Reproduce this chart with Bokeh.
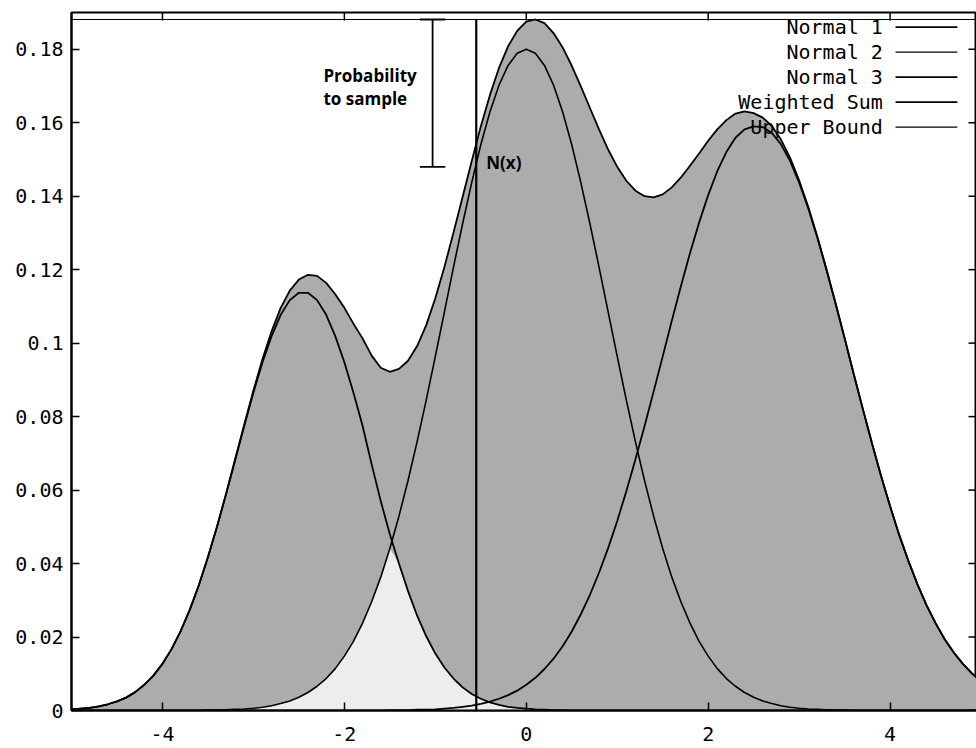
import numpy as np
from bokeh.plotting import figure
from bokeh.models import Range1d, FixedTicker
from bokeh.core.properties import value
from bokeh.embed import file_html
from bokeh.resources import INLINE

# ---- data (x step 0.1) ----
x = [-5.0, -4.9, -4.8, -4.7, -4.6, -4.5, -4.4, -4.3, -4.2, -4.1,
     -4.0, -3.9, -3.8, -3.7, -3.6, -3.5, -3.4, -3.3, -3.2, -3.1,
     -3.0, -2.9, -2.8, -2.7, -2.6, -2.5, -2.4, -2.3, -2.2, -2.1,
     -2.0, -1.9, -1.8, -1.7, -1.6, -1.5, -1.4, -1.3, -1.2, -1.1,
     -1.0, -0.9, -0.8, -0.7, -0.6, -0.5, -0.4, -0.3, -0.2, -0.1,
     0.0, 0.1, 0.2, 0.3, 0.4, 0.5, 0.6, 0.7, 0.8, 0.9,
     1.0, 1.1, 1.2, 1.3, 1.4, 1.5, 1.6, 1.7, 1.8, 1.9,
     2.0, 2.1, 2.2, 2.3, 2.4, 2.5, 2.6, 2.7, 2.8, 2.9,
     3.0, 3.1, 3.2, 3.3, 3.4, 3.5, 3.6, 3.7, 3.8, 3.9,
     4.0, 4.1, 4.2, 4.3, 4.4, 4.5, 4.6, 4.7, 4.8, 4.9,
     5.0]

normal_1 = [0.0003, 0.0005, 0.0007, 0.0011, 0.0017, 0.0025, 0.0035, 0.0050, 0.0070, 0.0095,
            0.0127, 0.0167, 0.0216, 0.0274, 0.0341, 0.0417, 0.0500, 0.0589, 0.0682, 0.0775,
            0.0865, 0.0948, 0.1019, 0.1077, 0.1117, 0.1137, 0.1137, 0.1117, 0.1077, 0.1019,
            0.0948, 0.0865, 0.0775, 0.0670, 0.0570, 0.0480, 0.0400, 0.0325, 0.0258, 0.0202,
            0.0155, 0.0117, 0.0087, 0.0063, 0.0045, 0.0032, 0.0022, 0.0015, 0.0010, 0.0007,
            0.0005, 0.0003, 0.0002, 0.0001, 0.0001, 0.0, 0.0, 0.0, 0.0, 0.0,
            0.0, 0.0, 0.0, 0.0, 0.0, 0.0, 0.0, 0.0, 0.0, 0.0,
            0.0, 0.0, 0.0, 0.0, 0.0, 0.0, 0.0, 0.0, 0.0, 0.0,
            0.0, 0.0, 0.0, 0.0, 0.0, 0.0, 0.0, 0.0, 0.0, 0.0,
            0.0, 0.0, 0.0, 0.0, 0.0, 0.0, 0.0, 0.0, 0.0, 0.0,
            0.0]

normal_2 = [0.0, 0.0, 0.0, 0.0, 0.0, 0.0, 0.0, 0.0, 0.0, 0.0,
            0.0, 0.0, 0.0, 0.0, 0.0, 0.0001, 0.0001, 0.0002, 0.0003, 0.0004,
            0.0006, 0.0009, 0.0013, 0.0019, 0.0026, 0.0036, 0.0049, 0.0066, 0.0087, 0.0114,
            0.0148, 0.0188, 0.0238, 0.0296, 0.0363, 0.0441, 0.0529, 0.0626, 0.0732, 0.0845,
            0.0964, 0.1085, 0.1207, 0.1325, 0.1437, 0.1540, 0.1629, 0.1702, 0.1756, 0.1789,
            0.1800, 0.1789, 0.1756, 0.1702, 0.1629, 0.1540, 0.1437, 0.1325, 0.1207, 0.1085,
            0.0964, 0.0845, 0.0732, 0.0626, 0.0529, 0.0441, 0.0363, 0.0296, 0.0238, 0.0188,
            0.0148, 0.0114, 0.0087, 0.0066, 0.0049, 0.0036, 0.0026, 0.0019, 0.0013, 0.0009,
            0.0006, 0.0004, 0.0003, 0.0002, 0.0001, 0.0001, 0.0, 0.0, 0.0, 0.0,
            0.0, 0.0, 0.0, 0.0, 0.0, 0.0, 0.0, 0.0, 0.0, 0.0,
            0.0]

normal_3 = [0.0, 0.0, 0.0, 0.0, 0.0, 0.0, 0.0, 0.0, 0.0, 0.0,
            0.0, 0.0, 0.0, 0.0, 0.0, 0.0, 0.0, 0.0, 0.0, 0.0,
            0.0, 0.0, 0.0, 0.0, 0.0, 0.0, 0.0, 0.0, 0.0, 0.0,
            0.0, 0.0, 0.0, 0.0, 0.0, 0.0001, 0.0001, 0.0001, 0.0002, 0.0002,
            0.0003, 0.0005, 0.0007, 0.0010, 0.0013, 0.0018, 0.0024, 0.0032, 0.0042, 0.0054,
            0.0070, 0.0089, 0.0113, 0.0141, 0.0175, 0.0215, 0.0262, 0.0315, 0.0375, 0.0442,
            0.0516, 0.0597, 0.0683, 0.0774, 0.0868, 0.0964, 0.1061, 0.1155, 0.1245, 0.1328,
            0.1403, 0.1468, 0.1520, 0.1559, 0.1582, 0.1590, 0.1588, 0.1572, 0.1541, 0.1496,
            0.1437, 0.1367, 0.1287, 0.1200, 0.1108, 0.1013, 0.0916, 0.0821, 0.0728, 0.0639,
            0.0556, 0.0478, 0.0408, 0.0344, 0.0287, 0.0238, 0.0194, 0.0158, 0.0127, 0.0101,
            0.0079]

weighted_sum = [0.0003, 0.0005, 0.0007, 0.0011, 0.0017, 0.0025, 0.0035, 0.0050, 0.0070, 0.0095,
                0.0127, 0.0167, 0.0216, 0.0274, 0.0341, 0.0418, 0.0501, 0.0591, 0.0685, 0.0779,
                0.0871, 0.0957, 0.1032, 0.1096, 0.1143, 0.1173, 0.1186, 0.1183, 0.1164, 0.1133,
                0.1096, 0.1053, 0.1013, 0.0966, 0.0933, 0.0922, 0.0930, 0.0952, 0.0992, 0.1049,
                0.1122, 0.1207, 0.1301, 0.1398, 0.1495, 0.1590, 0.1675, 0.1749, 0.1808, 0.1850,
                0.1875, 0.1881, 0.1871, 0.1844, 0.1805, 0.1755, 0.1699, 0.1640, 0.1582, 0.1527,
                0.1480, 0.1442, 0.1415, 0.1400, 0.1397, 0.1405, 0.1424, 0.1451, 0.1483, 0.1516,
                0.1551, 0.1582, 0.1607, 0.1625, 0.1631, 0.1626, 0.1614, 0.1591, 0.1554, 0.1505,
                0.1443, 0.1371, 0.1290, 0.1202, 0.1109, 0.1014, 0.0916, 0.0821, 0.0728, 0.0639,
                0.0556, 0.0478, 0.0408, 0.0344, 0.0287, 0.0238, 0.0194, 0.0158, 0.0127, 0.0101,
                0.0079]

upper_bound = 0.1881
sample_x = -0.55           # sampled position (vertical line)
sample_value = 0.148       # bottom of the "probability to sample" bar
prob_bar_x = -1.03

x_ticks = [-4, -2, 0, 2, 4]
x_tick_labels = ["-4", "-2", "0", "2", "4"]
y_ticks = [0, 0.02, 0.04, 0.06, 0.08, 0.1, 0.12, 0.14, 0.16, 0.18]
y_tick_labels = ["0", "0.02", "0.04", "0.06", "0.08", "0.1", "0.12", "0.14", "0.16", "0.18"]

legend_labels = ["Normal 1", "Normal 2", "Normal 3", "Weighted Sum", "Upper Bound"]

# ---- figure ----
X0, X1, Y0, Y1 = -5, 4.95, 0, 0.19
MONO = "DejaVu Sans Mono"
p = figure(width=976, height=748, x_range=Range1d(X0, X1), y_range=Range1d(Y0, Y1),
           output_backend="svg", toolbar_location=None,
           min_border_left=71, min_border_right=0, min_border_top=12, min_border_bottom=38)
p.background_fill_color = "white"
p.border_fill_color = "white"
p.outline_line_color = "black"
p.outline_line_width = 2
p.grid.visible = False

# shaded area under the weighted sum, lighter area under both Normal 1 and Normal 2
p.varea(x=x, y1=0, y2=weighted_sum, fill_color="#acacac")
p.varea(x=x, y1=0, y2=list(np.minimum(normal_1, normal_2)), fill_color="#ededed")

# curves
p.line(x, normal_1, line_color="black", line_width=1.8)
p.line(x, normal_2, line_color="black", line_width=1.6)
p.line(x, normal_3, line_color="black", line_width=1.8)
p.line(x, weighted_sum, line_color="black", line_width=1.8)
p.line([x[0], x[-1]], [upper_bound, upper_bound], line_color="black", line_width=1.2)

# sampled position and probability bar
p.segment(x0=[sample_x], y0=[0], x1=[sample_x], y1=[upper_bound], line_color="black", line_width=2.2)
p.segment(x0=[prob_bar_x], y0=[sample_value], x1=[prob_bar_x], y1=[upper_bound],
          line_color="black", line_width=1.8)
p.segment(x0=[prob_bar_x - 0.14, prob_bar_x - 0.14], y0=[sample_value, upper_bound],
          x1=[prob_bar_x + 0.14, prob_bar_x + 0.14], y1=[sample_value, upper_bound],
          line_color="black", line_width=1.8)

p.text(x=[-2.23, -2.23], y=[0.1729, 0.1667], text=["Probability", "to sample"],
       text_font=value("Open Sans"), text_font_style="bold", text_font_size="17px",
       text_align="left", text_baseline="middle", text_color="black")
p.text(x=[-0.44], y=[0.1492], text=["N(x)"],
       text_font=value("Open Sans"), text_font_style="bold", text_font_size="17px",
       text_align="left", text_baseline="middle", text_color="black")

# legend (labels right-aligned, sample line to the right, as in gnuplot)
leg_y = [0.1860, 0.1792, 0.1724, 0.1656, 0.1588]
p.text(x=[3.92] * 5, y=leg_y, text=legend_labels, text_font=value(MONO), text_font_size="20px",
       text_align="right", text_baseline="middle", text_color="black")
p.segment(x0=[4.06] * 5, y0=leg_y, x1=[4.74] * 5, y1=leg_y, line_color="black",
          line_width=[1.8, 1.2, 1.8, 1.6, 1.2])

# mirrored inward ticks on the top and right border
tick_dy = (Y1 - Y0) * 8 / 698
tick_dx = (X1 - X0) * 8 / 905
p.segment(x0=x_ticks, y0=[Y1] * len(x_ticks), x1=x_ticks, y1=[Y1 - tick_dy] * len(x_ticks),
          line_color="black", line_width=1.5)
p.segment(x0=[X1] * len(y_ticks), y0=y_ticks, x1=[X1 - tick_dx] * len(y_ticks), y1=y_ticks,
          line_color="black", line_width=1.5)

# axes
for ax in (p.xaxis[0], p.yaxis[0]):
    ax.axis_line_width = 2
    ax.axis_line_color = "black"
    ax.major_tick_in = 8
    ax.major_tick_out = 0
    ax.major_tick_line_width = 1.5
    ax.major_tick_line_color = "black"
    ax.minor_tick_line_color = None
    ax.major_label_text_font = MONO
    ax.major_label_text_font_size = "20px"
    ax.major_label_text_color = "black"

p.xaxis.ticker = FixedTicker(ticks=x_ticks)
p.xaxis.major_label_overrides = dict(zip(x_ticks, x_tick_labels))
p.xaxis.major_label_standoff = 16
p.yaxis.ticker = FixedTicker(ticks=y_ticks)
p.yaxis.major_label_overrides = dict(zip(y_ticks, y_tick_labels))
p.yaxis.major_label_standoff = 8

open("out.html", "w").write(file_html(p, INLINE))
